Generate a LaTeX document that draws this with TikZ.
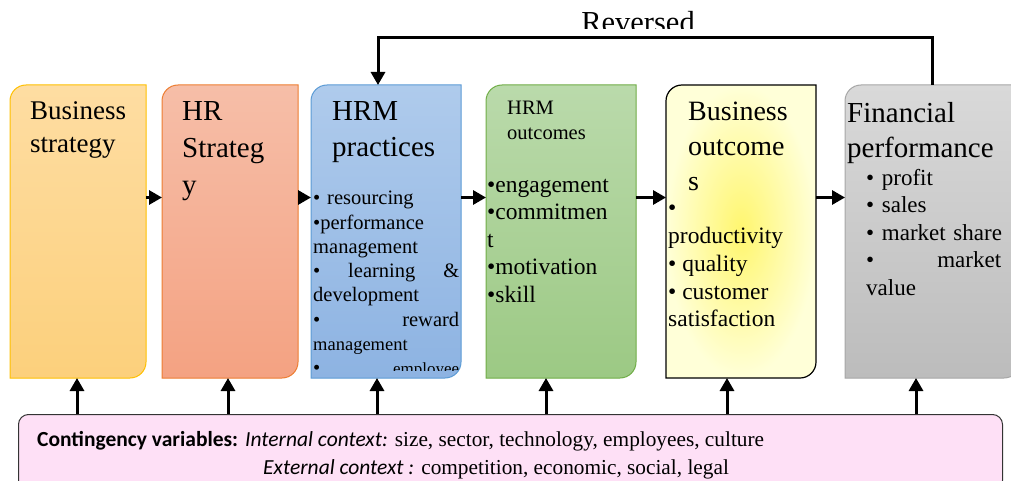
\documentclass[tikz,border=0pt]{standalone}
\usepackage{fontspec}
\setmainfont{Liberation Serif}
\newfontfamily\calfont{Carlito}
\usetikzlibrary{arrows.meta, positioning}

\definecolor{bsTop}{HTML}{FEDDA2}
\definecolor{bsBot}{HTML}{FCD07C}
\definecolor{bsLine}{HTML}{FFC000}
\definecolor{hrTop}{HTML}{F6BEA8}
\definecolor{hrBot}{HTML}{F4A282}
\definecolor{hrLine}{HTML}{ED7D31}
\definecolor{prTop}{HTML}{AFCBEC}
\definecolor{prBot}{HTML}{8DB3E2}
\definecolor{prLine}{HTML}{5B9BD5}
\definecolor{ouTop}{HTML}{BADAAB}
\definecolor{ouBot}{HTML}{9CC984}
\definecolor{ouLine}{HTML}{70AD47}
\definecolor{boHot}{HTML}{FFF66E}
\definecolor{boPale}{HTML}{FFFFD8}
\definecolor{fpTop}{HTML}{D9D9D9}
\definecolor{fpBot}{HTML}{BCBCBC}
\definecolor{fpLine}{HTML}{A6A6A6}
\definecolor{contPink}{HTML}{FEE0F6}

\tikzstyle{stage} = [rectangle, minimum height=293pt, inner sep=0pt, outer sep=0pt]
\tikzstyle{headtxt} = [inner sep=0pt, align=left]
\tikzstyle{itemtxt} = [inner sep=0pt, align=left]
\tikzstyle{contbox} = [rectangle, rounded corners=10pt, draw=black!80, fill=contPink, line width=1pt]
\tikzstyle{arrow} = [line width=3pt, -{Triangle[length=13pt,width=14pt]}]

\begin{document}
\begin{tikzpicture}[x=1pt, y=1pt]
\useasboundingbox (0,0) rectangle (1011,480);
\clip (0,0) rectangle (1011,480);

% Stages
\node (bstrat) [stage, minimum width=136pt, anchor=north west] at (10,395) {};
\node (hrstrat) [stage, minimum width=136pt, right=16pt of bstrat] {};
\node (hrmprac) [stage, minimum width=150pt, right=13pt of hrstrat] {};
\node (hrmout) [stage, minimum width=150pt, right=25pt of hrmprac] {};
\node (busout) [stage, minimum width=150pt, right=30pt of hrmout] {};
\node (finperf) [stage, minimum width=175pt, right=29pt of busout] {};

% Contingency box
\node (cont) [contbox, minimum width=984pt, minimum height=76pt, anchor=north west] at (18,66) {};

% Stage outlines, rounded top left and bottom right
\foreach \n/\tc/\bc/\dc in {bstrat/bsTop/bsBot/bsLine, hrstrat/hrTop/hrBot/hrLine,
    hrmprac/prTop/prBot/prLine, hrmout/ouTop/ouBot/ouLine, finperf/fpTop/fpBot/fpLine}
  \path[draw=\dc, line width=1pt, top color=\tc, bottom color=\bc]
    (\n.west) [rounded corners=16pt] -- (\n.north west) [sharp corners] -- (\n.north east)
    [rounded corners=16pt] -- (\n.south east) [sharp corners] -- (\n.south west) -- cycle;
\path[draw=black, line width=1.2pt, inner color=boHot, outer color=boPale]
  (busout.west) [rounded corners=16pt] -- (busout.north west) [sharp corners] -- (busout.north east)
  [rounded corners=16pt] -- (busout.south east) [sharp corners] -- (busout.south west) -- cycle;

% Texts
\node (bstrat-h) [headtxt, font=\fontsize{27}{33}\selectfont, below right=16pt and 20pt of bstrat.north west] {Business\\strategy};
\node (hrstrat-h) [headtxt, font=\fontsize{29}{37}\selectfont, below right=16pt and 20pt of hrstrat.north west] {HR\\Strateg\\y};
\node (hrmprac-h) [headtxt, font=\fontsize{29}{36}\selectfont, below right=16pt and 21pt of hrmprac.north west] {HRM\\practices};
\begin{scope}
  \clip ([yshift=8pt]hrmprac.south west) rectangle (hrmprac.north east);
  \node (hrmprac-i) [itemtxt, text width=146pt, font=\fontsize{20.5}{24.3}\selectfont, below right=106pt and 2pt of hrmprac.north west]
    {\textbullet\ resourcing\\
     \textbullet performance\\
     management\\
     \textbullet\hfill learning\hfill\&\\
     development\\
     \textbullet\hfill reward\\
     {\fontsize{18.5}{24.3}\selectfont management}\\
     \textbullet\hfill {\fontsize{17}{24.3}\selectfont employee}};
\end{scope}
\node (hrmout-h) [headtxt, font=\fontsize{20.5}{25}\selectfont, below right=16pt and 21pt of hrmout.north west] {HRM\\outcomes};
\node (hrmout-i) [itemtxt, font=\fontsize{23.5}{27.5}\selectfont, below right=94pt and 1pt of hrmout.north west]
  {\textbullet engagement\\\textbullet commitmen\\t\\\textbullet motivation\\\textbullet skill};
\node (busout-h) [headtxt, font=\fontsize{28}{35}\selectfont, below right=17pt and 22pt of busout.north west] {Business\\outcome\\s};
\node (busout-i) [itemtxt, font=\fontsize{23.5}{27.8}\selectfont, below right=120pt and 2pt of busout.north west]
  {\textbullet\\productivity\\\textbullet\ quality\\\textbullet\ customer\\satisfaction};
\node (finperf-h) [headtxt, font=\fontsize{29}{35}\selectfont, below right=17pt and 2pt of finperf.north west] {Financial\\performance};
\node (finperf-i) [itemtxt, text width=135pt, font=\fontsize{23}{27.5}\selectfont, below right=84pt and 21pt of finperf.north west]
  {\textbullet\ profit\\\textbullet\ sales\\\mbox{\textbullet\ market share}\\\textbullet\hfill market\\value};

\node (intctx) [anchor=base west, inner sep=0pt, font=\fontsize{21.3}{24}\selectfont] at (37,34)
  {{\calfont\bfseries\fontsize{21.5}{24}\selectfont Contingency variables:} {\calfont\itshape\fontsize{21.5}{24}\selectfont Internal context:} size, sector, technology, employees, culture};
\node (extctx) [anchor=base west, inner sep=0pt, font=\fontsize{21.3}{24}\selectfont] at (263,6)
  {{\calfont\itshape\fontsize{21.5}{24}\selectfont External context :} competition, economic, social, legal};

% Arrows
\foreach \a/\b in {bstrat/hrstrat, hrstrat/hrmprac, hrmprac/hrmout, hrmout/busout, busout/finperf}
  \draw[arrow] ([yshift=34pt]\a.east) -- ([yshift=34pt]\b.west);
\foreach \n/\x in {bstrat/77, hrstrat/228, hrmprac/377, hrmout/546, busout/727, finperf/916}
  \draw[arrow] (cont.north -| \x,0) -- (\n.south -| \x,0);

% Feedback loop
\draw[arrow] (finperf.north) -- ++(0,47) -| ([xshift=-8pt]hrmprac.north);
\begin{scope}
  \clip (540,451) rectangle (740,480);
  \node (revlabel) [font=\fontsize{30.5}{36}\selectfont, anchor=base] at (638,447) {Reversed};
\end{scope}

\end{tikzpicture}
\end{document}
